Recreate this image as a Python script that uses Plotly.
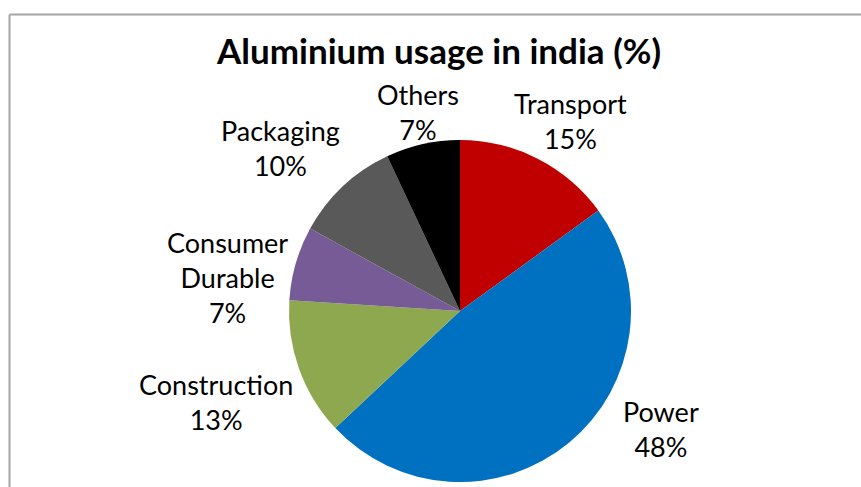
import plotly.graph_objects as go

W, H = 861, 487
OFF = 0  # body margin removed via post_script

categories = ["Transport", "Power", "Construction", "Consumer Durable", "Packaging", "Others"]
values = [15, 48, 13, 7, 10, 7]
colors = ["#C00000", "#0070C0", "#8EA84F", "#775B97", "#595959", "#000000"]
title_text = "Aluminium usage in india (%)"

label_lines = {
    "Transport": ["Transport"],
    "Power": ["Power"],
    "Construction": ["Construction"],
    "Consumer Durable": ["Consumer", "Durable"],
    "Packaging": ["Packaging"],
    "Others": ["Others"],
}
label_pos = {
    "Transport": (570, 121),
    "Power": (661, 429),
    "Construction": (216, 402),
    "Consumer Durable": (227, 277),
    "Packaging": (280, 148),
    "Others": (418, 112),
}

def px(x, y):
    return (x - OFF) / W, 1 - (y - OFF) / H

cx, cy, r = 460, 311, 171
x0, y1 = px(cx - r, cy - r)
x1, y0 = px(cx + r, cy + r)
fig = go.Figure(go.Pie(
    labels=categories,
    values=values,
    sort=False,
    direction="clockwise",
    rotation=0,
    marker=dict(colors=colors, line=dict(width=0)),
    textinfo="none",
    hoverinfo="skip",
    showlegend=False,
    domain=dict(x=[x0, x1], y=[y0, y1]),
))

font_family = "Lato, 'Open Sans', sans-serif"
annotations = []
for cat, val in zip(categories, values):
    x, y = px(*label_pos[cat])
    text = "<br>".join(label_lines[cat] + [f"{val}%"])
    annotations.append(dict(
        x=x, y=y, xref="paper", yref="paper", text=text, showarrow=False,
        xanchor="center", yanchor="middle", align="center",
        font=dict(family=font_family, size=27, color="#000000"),
    ))

tx, ty = px(438, 50)
annotations.append(dict(
    x=tx, y=ty, xref="paper", yref="paper", text=f"<b>{title_text}</b>", showarrow=False,
    xanchor="center", yanchor="middle",
    font=dict(family=font_family, size=35, color="#000000"),
))

bx0, by1 = px(9.5, 14.5)
border = dict(color="#A6A6A6", width=2)
fig.update_layout(
    width=W, height=H,
    margin=dict(l=0, r=0, t=0, b=0),
    paper_bgcolor="white", plot_bgcolor="white",
    annotations=annotations,
    shapes=[
        dict(type="line", xref="paper", yref="paper", x0=bx0, x1=bx0, y0=-0.05, y1=by1, line=border, layer="below"),
        dict(type="line", xref="paper", yref="paper", x0=bx0, x1=1.0, y0=by1, y1=by1, line=border, layer="below"),
    ],
)

fig.write_html(
    "out.html",
    config={"displayModeBar": False, "staticPlot": True},
    post_script="document.body.style.margin='0';document.body.style.overflow='hidden';",
)
